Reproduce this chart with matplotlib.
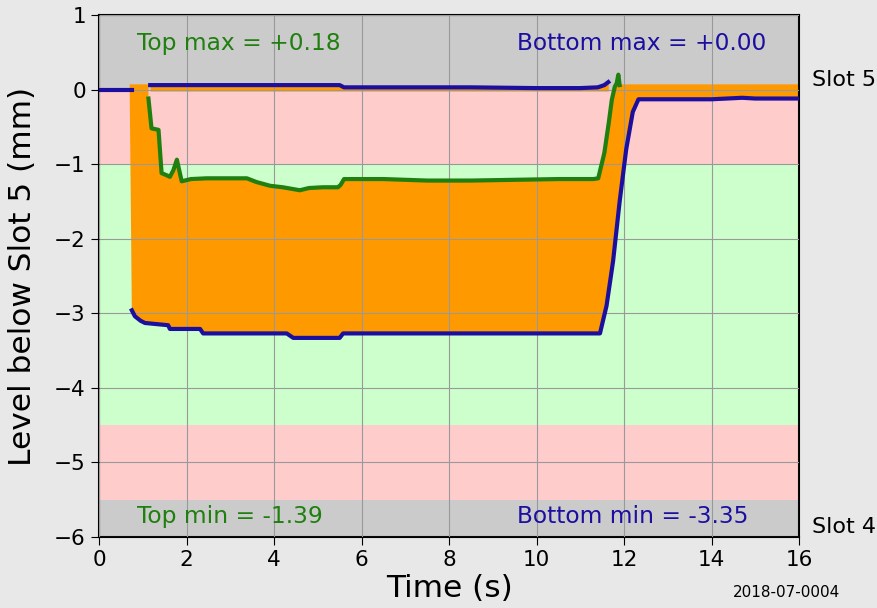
import matplotlib
matplotlib.use("Agg")
import matplotlib.pyplot as plt
import numpy as np

# ---- data ----
# green "top" trace
top_t = [1.13, 1.20, 1.36, 1.43, 1.55, 1.62, 1.70, 1.78, 1.84, 1.89, 2.10, 2.46, 2.90, 3.38,
         3.60, 3.91, 4.20, 4.59, 4.80, 5.12, 5.46, 5.52, 5.60, 6.5, 7.5, 8.5, 9.5, 10.5, 11.30,
         11.41, 11.55, 11.65, 11.72, 11.79, 11.83, 11.87, 11.90]
top_v = [-0.12, -0.52, -0.54, -1.12, -1.15, -1.17, -1.08, -0.94, -1.10, -1.23, -1.20, -1.19,
         -1.19, -1.19, -1.24, -1.29, -1.31, -1.35, -1.32, -1.31, -1.31, -1.28, -1.20, -1.20,
         -1.22, -1.22, -1.21, -1.20, -1.20, -1.19, -0.85, -0.45, -0.14, 0.04, 0.08, 0.20, 0.06]

# fill top edge outside the green trace
fill_top_t0 = [0.70, 1.13]
fill_top_v0 = [0.07, 0.07]
fill_top_t1 = [11.95, 16.0]
fill_top_v1 = [0.07, 0.07]

# blue "bottom" trace
bot_t = [0.75, 0.82, 0.95, 1.05, 1.58, 1.62, 2.31, 2.38, 3.5, 4.29, 4.44, 5.0, 5.50, 5.58,
         7.0, 9.0, 11.0, 11.45, 11.60, 11.75, 11.90, 12.05, 12.20, 12.33, 13.0, 14.0, 14.7,
         15.0, 16.0]
bot_v = [-2.96, -3.04, -3.10, -3.13, -3.16, -3.21, -3.21, -3.27, -3.27, -3.27, -3.33, -3.33,
         -3.33, -3.27, -3.27, -3.27, -3.27, -3.27, -2.90, -2.30, -1.50, -0.80, -0.30, -0.13,
         -0.13, -0.13, -0.11, -0.12, -0.12]

# blue trace before the event
pre_t = [0.0, 0.75]
pre_v = [0.0, 0.0]

# upper blue trace ("bottom max")
up_t = [1.17, 2.0, 3.0, 4.0, 5.5, 5.6, 7.0, 8.5, 10.0, 11.0, 11.4, 11.55, 11.64]
up_v = [0.06, 0.06, 0.06, 0.06, 0.06, 0.03, 0.03, 0.03, 0.02, 0.02, 0.03, 0.06, 0.10]

bands = [(0.0, 1.0, "#cbcbcb"), (-1.0, 0.0, "#ffcccc"), (-4.5, -1.0, "#ccffcc"),
         (-5.5, -4.5, "#ffcccc"), (-6.0, -5.5, "#cbcbcb")]

xticks = [0, 2, 4, 6, 8, 10, 12, 14, 16]
yticks = [1, 0, -1, -2, -3, -4, -5, -6]

GREEN = "#1f7f0f"
BLUE = "#1c0fa0"
ORANGE = "#ff9900"

fig = plt.figure(figsize=(8.77, 6.08), dpi=100, facecolor="#e8e8e8")
ax = fig.add_axes([0.1129, 0.1168, 0.7982, 0.8585])
ax.set_facecolor("#e8e8e8")

for lo, hi, c in bands:
    ax.axhspan(lo, hi, color=c, zorder=0, lw=0)

ax.set_xlim(0, 16)
ax.set_ylim(-6, 1)
ax.set_xticks(xticks)
ax.set_yticks(yticks)
ax.grid(True, color="#999999", lw=0.8, zorder=1)
ax.set_axisbelow(False)

# orange fill polygon
px = list(fill_top_t0) + list(top_t) + list(fill_top_t1) + list(bot_t[::-1])
py = list(fill_top_v0) + list(top_v) + list(fill_top_v1) + list(bot_v[::-1])
ax.fill(px, py, color=ORANGE, lw=0, zorder=2)
ax.fill_between(up_t, up_v, -0.02, color=ORANGE, lw=0, zorder=2)

ax.plot(top_t, top_v, color=GREEN, lw=3, zorder=3)
ax.plot(bot_t, bot_v, color=BLUE, lw=3, zorder=3)
ax.plot(pre_t, pre_v, color=BLUE, lw=3, zorder=3)
ax.plot(up_t, up_v, color=BLUE, lw=3, zorder=3)

ax.tick_params(labelsize=15.5, length=6, color="black")
ax.set_xlabel("Time (s)", fontsize=22.5, labelpad=3)
ax.set_ylabel("Level below Slot 5 (mm)", fontsize=22.5, labelpad=12)
for s in ax.spines.values():
    s.set_linewidth(1.5)

FS = 16.8
ax.text(0.87, 0.62, "Top max = +0.18", color=GREEN, fontsize=FS, va="center", ha="left", zorder=4)
ax.text(9.55, 0.62, "Bottom max = +0.00", color=BLUE, fontsize=FS, va="center", ha="left", zorder=4)
ax.text(0.87, -5.73, "Top min = -1.39", color=GREEN, fontsize=FS, va="center", ha="left", zorder=4)
ax.text(9.55, -5.73, "Bottom min = -3.35", color=BLUE, fontsize=FS, va="center", ha="left", zorder=4)

ax.text(16.3, 0.13, "Slot 5", fontsize=16, va="center", ha="left", clip_on=False)
ax.text(16.3, -5.87, "Slot 4", fontsize=16, va="center", ha="left", clip_on=False)
fig.text(0.897, 0.025, "2018-07-0004", fontsize=11, ha="center", va="center")

fig.savefig("out.png", dpi=100, facecolor=fig.get_facecolor())
